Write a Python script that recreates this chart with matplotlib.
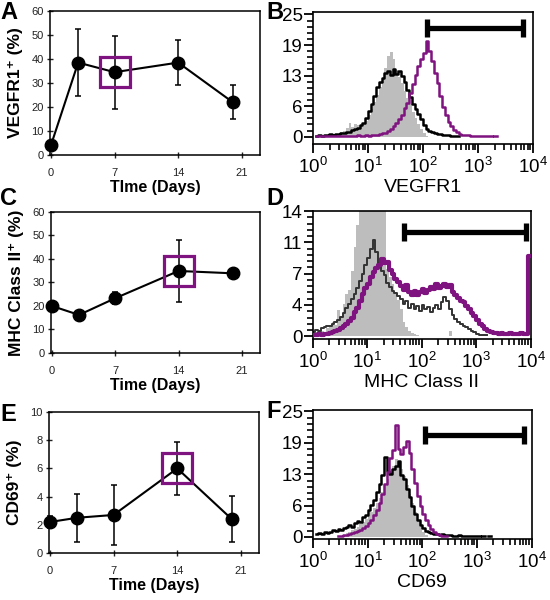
import matplotlib.pyplot as plt
import numpy as np
from matplotlib.ticker import FixedLocator, NullFormatter

plt.rcParams["font.family"] = ["Liberation Sans", "DejaVu Sans"]
plt.rcParams["mathtext.fontset"] = "custom"
plt.rcParams["mathtext.rm"] = "Liberation Sans"
plt.rcParams["mathtext.it"] = "Liberation Sans:italic"
plt.rcParams["mathtext.bf"] = "Liberation Sans:bold"

PURPLE = "#7f137f"
GREY = "#bdbdbd"

# ── Time courses: % positive cells ─────────────────────────────────────────
days = [0, 3, 7, 14, 20]
vegfr1_pct = [4.0, 38.5, 34.5, 38.5, 22.0]
vegfr1_err = [1.0, 13.8, 15.2, 9.3, 7.0]
mhc_pct = [20.0, 16.2, 23.3, 34.9, 33.9]
mhc_err = [1.0, 0.8, 2.6, 13.0, 1.6]
cd69_pct = [2.2, 2.5, 2.7, 6.0, 2.4]
cd69_err = [0.4, 1.7, 2.1, 1.9, 1.65]

# ── Flow histograms: counts per 0.05-decade bin, 10^0 .. 10^4 ──────────────
vegfr1_iso = [
    0, 0, 0, 0, 0, 0.1, 0.2, 0.3, 0.5, 0.6, 0.9, 1.2, 1.8, 2.8, 1.9, 2.6, 2.4, 2.2, 2.6, 3.2,
    4.4, 5.6, 7.0, 8.6, 10.2, 12.0, 14.0, 16.6, 17.3, 15.8, 13.6, 12.2, 11.0, 9.4, 8.0, 6.6, 5.0, 3.8, 2.6, 1.5,
    0.7, 0.2, 0, 0, 0, 0, 0, 0, 0, 0, 0, 0, 0, 0, 0, 0, 0, 0, 0, 0,
    0, 0, 0, 0, 0, 0, 0, 0, 0, 0, 0, 0, 0, 0, 0, 0, 0, 0, 0, 0,
]
vegfr1_ctrl = [
    0, 0.2, 0.3, 0.2, 0.4, 0.3, 0.5, 0.4, 0.6, 0.5, 0.7, 0.8, 1.0, 0.9, 1.4, 1.6, 1.8, 2.3, 2.7, 3.8,
    5.2, 6.6, 8.4, 10.1, 11.2, 12.0, 13.1, 13.5, 12.6, 13.8, 12.9, 13.4, 12.5, 11.2, 9.6, 8.1, 6.6, 5.6, 4.6, 3.6,
    2.4, 1.5, 1.1, 0.9, 0.8, 0.6, 0.5, 0.4, 0.3, 0.3, 0.2, 0.2, 0.1, 0, 0, 0, 0, 0, 0, 0,
    0, 0, 0, 0, 0, 0, 0, 0, 0, 0, 0, 0, 0, 0, 0, 0, 0, 0, 0, 0,
]
vegfr1_day7 = [
    0, 0.1, 0.1, 0.2, 0.1, 0.2, 0.1, 0.2, 0.2, 0.1, 0.2, 0.2, 0.1, 0.2, 0.2, 0.2, 0.3, 0.2, 0.2, 0.3,
    0.2, 0.3, 0.3, 0.4, 0.5, 0.7, 0.8, 1.2, 1.5, 2.2, 2.8, 3.6, 4.4, 5.9, 6.8, 8.9, 10.8, 12.6, 14.4, 15.9,
    17.2, 19.6, 17.5, 15.4, 13.0, 11.0, 8.4, 6.0, 4.5, 3.1, 2.2, 1.4, 0.9, 0.6, 0.4, 0.3, 0.3, 0.2, 0.2, 0.2,
    0.1, 0.2, 0.1, 0.1, 0.1, 0, 0.1, 0, 0, 0, 0, 0, 0, 0, 0, 0, 0, 0, 0, 0,
]
mhc_iso = [
    0.3, 0.5, 0.4, 0.6, 0.5, 0.9, 1.0, 1.6, 1.3, 2.9, 2.2, 3.6, 4.7, 5.2, 7.3, 10.0, 12.4, 14.5, 16.0, 16.5,
    17.0, 16.8, 16.2, 16.5, 15.8, 15.0, 14.6, 7.5, 6.6, 5.8, 5.0, 4.1, 3.0, 1.6, 1.0, 0.6, 0.4, 0.3, 0.1, 0,
    0, 0, 0, 0, 0, 0, 0, 0, 0, 0, 0.6, 0, 0, 0, 0, 0, 0, 0, 0, 0,
    0, 0, 0, 0, 0, 0, 0, 0, 0, 0, 0, 0, 0, 0, 0, 0, 0, 0, 0, 0,
]
mhc_ctrl = [
    0.5, 0.7, 0.6, 0.9, 1.0, 1.2, 1.1, 1.4, 1.6, 1.8, 2.2, 2.6, 3.2, 3.6, 4.2, 4.7, 5.4, 6.2, 7.0, 8.0,
    8.8, 9.8, 10.8, 9.4, 8.2, 7.3, 6.8, 6.0, 5.5, 5.1, 4.8, 4.5, 4.2, 3.6, 4.0, 3.2, 3.6, 3.0, 3.4, 2.8,
    3.5, 3.0, 3.3, 2.7, 3.2, 3.5, 3.0, 3.8, 4.4, 4.0, 3.0, 2.4, 1.9, 1.6, 1.4, 1.2, 1.0, 0.8, 0.6, 0.5,
    0.3, 0.2, 0.1, 0.1, 0, 0, 0, 0, 0, 0, 0, 0, 0, 0, 0, 0, 0, 0, 0, 0,
]
mhc_day14 = [
    0.2, 0.2, 0.3, 0.2, 0.3, 0.3, 0.4, 0.5, 0.6, 0.7, 0.9, 1.1, 1.4, 1.7, 2.1, 2.7, 3.2, 4.0, 4.7, 5.4,
    5.9, 6.6, 7.2, 7.6, 8.0, 8.6, 8.2, 8.3, 7.4, 7.0, 6.4, 6.1, 5.6, 5.2, 5.7, 5.0, 4.6, 5.1, 4.6, 4.9,
    5.3, 4.8, 5.2, 5.5, 5.3, 5.8, 5.4, 5.6, 5.9, 5.5, 5.7, 5.0, 4.6, 4.3, 4.0, 3.8, 3.4, 3.0, 2.6, 2.3,
    1.8, 1.4, 1.1, 0.8, 0.6, 0.5, 0.4, 0.4, 0.3, 0.4, 0.3, 0.3, 0.4, 0.3, 0.3, 0.3, 0.4, 0.3, 0.3, 9.0,
]
cd69_iso = [
    0, 0, 0, 0, 0, 0, 0, 0, 0, 0, 0.2, 0.4, 0.8, 1.0, 1.3, 1.6, 2.0, 2.5, 3.0, 3.6,
    4.2, 5.0, 5.8, 6.8, 7.8, 9.0, 10.2, 11.6, 13.0, 14.2, 15.6, 14.8, 13.6, 12.2, 10.4, 8.6, 6.8, 5.0, 3.4, 2.0,
    0.9, 0.3, 0, 0, 0, 0, 0, 0, 0, 0, 0, 0, 0, 0, 0, 0, 0, 0, 0, 0,
    0, 0, 0, 0, 0, 0, 0, 0, 0, 0, 0, 0, 0, 0, 0, 0, 0, 0, 0, 0,
]
cd69_ctrl = [
    0, 0.5, 0.8, 0.6, 0.9, 0.7, 1.0, 1.4, 1.2, 1.6, 1.3, 1.8, 2.0, 2.3, 2.0, 2.8, 3.2, 3.0, 3.9, 4.4,
    5.4, 6.3, 7.4, 8.9, 10.6, 12.4, 15.9, 13.2, 12.5, 13.6, 14.2, 15.2, 12.4, 11.5, 9.6, 7.9, 6.2, 4.6, 3.4, 2.4,
    1.8, 1.2, 1.0, 0.8, 0.6, 0.5, 0.4, 0.5, 0.3, 0.3, 0.4, 0.2, 0.2, 0.3, 0.1, 0.2, 0.1, 0.1, 0.1, 0.1,
    0.1, 0, 0.1, 0, 0.1, 0, 0, 0, 0, 0, 0, 0, 0, 0, 0, 0, 0, 0, 0, 0,
]
cd69_day14 = [
    0, 0, 0, 0, 0, 0, 0, 0, 0, 0.1, 0.2, 0.3, 0.4, 0.6, 0.7, 0.9, 1.2, 1.4, 1.8, 2.2,
    2.8, 3.4, 4.3, 5.4, 6.8, 8.5, 10.6, 13.0, 15.8, 17.4, 22.4, 17.5, 16.6, 18.0, 19.2, 16.8, 13.6, 10.8, 8.2, 6.2,
    4.6, 3.4, 2.4, 1.6, 1.0, 0.6, 0.4, 0.2, 0.1, 0, 0, 0, 0, 0, 0, 0, 0, 0, 0, 0,
    0, 0, 0, 0, 0, 0, 0, 0, 0, 0, 0, 0, 0, 0, 0, 0, 0, 0, 0, 0,
]

# positive gates (x start, x end, height)
vegfr1_gate = [120, 6700, 22.2]
mhc_gate = [48, 8300, 11.7]
cd69_gate = [112, 7300, 20.3]

hist_ymax = [25, 14, 25]
hist_yticklabels = [["0", "6", "13", "19", "25"], ["0", "4", "7", "11", "14"], ["0", "6", "13", "19", "25"]]

EDGES = 10 ** np.linspace(0, 4, 81)
MINOR_X = [m * 10 ** k for k in range(4) for m in range(2, 10)]


def time_panel(ax, y, err, hl, ymax, ystep, ylabel, xlabel):
    ax.errorbar(days, y, yerr=err, color="black", lw=1.5, elinewidth=1.1, capsize=2,
                capthick=1.1, marker="o", ms=9, zorder=3, clip_on=False)
    ax.plot(days[hl], y[hl], marker="s", ms=21, mfc="none", mec=PURPLE, mew=2.3, zorder=4)
    ax.set_xlim(-0.1, 23)
    ax.set_ylim(0, ymax)
    ax.set_xticks([0, 7, 14, 21])
    ax.set_yticks(np.arange(0, ymax + ystep / 2, ystep))
    ax.tick_params(direction="inout", length=5, width=1, labelsize=8, pad=7, colors="#222222")
    ax.tick_params(axis="y", pad=2)
    for s in ax.spines.values():
        s.set_linewidth(1.1)
    ax.set_ylabel(ylabel, fontsize=12.5, fontweight="bold")
    ax.yaxis.set_label_coords(-0.13, 0.5)
    ax.set_xlabel(xlabel, fontsize=11.5, fontweight="bold", labelpad=1)


def step_line(ax, vals, **kw):
    v = np.array(vals, dtype=float)
    v[v == 0] = np.nan
    ax.step(EDGES, np.append(v, v[-1]), where="post", **kw)


def hist_panel(ax, iso, ctrl, treated, gate, ymax, ylabels, xlabel, thick=False):
    ax.stairs(iso, EDGES, fill=True, color=GREY, lw=0, zorder=1)
    step_line(ax, ctrl, color="#333333" if thick else "black", lw=1.4 if thick else 1.8, zorder=2)
    step_line(ax, treated, color=PURPLE, lw=3.0 if thick else 1.8, zorder=3)
    ax.plot(gate[:2], [gate[2], gate[2]], color="black", lw=3.8, solid_capstyle="butt", zorder=4)
    ax.plot(gate[:2], [gate[2], gate[2]], ls="none", marker="|", ms=13, mew=3.8,
            color="black", zorder=4)
    ax.set_xscale("log")
    ax.set_xlim(1, 1e4)
    ax.set_ylim(-0.06 * ymax, ymax * 1.02)
    ax.xaxis.set_major_locator(FixedLocator([1, 10, 100, 1000, 10000]))
    ax.xaxis.set_minor_locator(FixedLocator(MINOR_X))
    ax.set_xticklabels([r"$10^0$", r"$10^1$", r"$10^2$", r"$10^3$", r"$10^4$"])
    ax.xaxis.set_minor_formatter(NullFormatter())
    ax.yaxis.set_major_locator(FixedLocator(np.linspace(0, ymax, 5)))
    ax.yaxis.set_minor_locator(FixedLocator(np.linspace(0, ymax, 21)))
    ax.set_yticklabels(ylabels)
    ax.yaxis.set_minor_formatter(NullFormatter())
    ax.tick_params(which="major", direction="out", length=6.5, width=1.3, color="black")
    ax.tick_params(which="minor", direction="out", length=4.5, width=1.2, color="black")
    ax.tick_params(axis="x", labelsize=13.5, pad=3)
    ax.tick_params(axis="y", labelsize=13.5, pad=1)
    for s in ax.spines.values():
        s.set_linewidth(1.2)
    ax.set_xlabel(xlabel, fontsize=14, labelpad=1)


fig = plt.figure(figsize=(5.5, 6), dpi=100)
axA = fig.add_axes([0.0909, 0.7417, 0.3818, 0.24])
axC = fig.add_axes([0.0927, 0.4117, 0.38, 0.235])
axE = fig.add_axes([0.0891, 0.0783, 0.382, 0.235])
axB = fig.add_axes([0.569, 0.76, 0.4, 0.22])
axD = fig.add_axes([0.5685, 0.435, 0.3964, 0.2133])
axF = fig.add_axes([0.569, 0.1017, 0.3976, 0.215])

time_panel(axA, vegfr1_pct, vegfr1_err, 2, 60, 10, "VEGFR1⁺ (%)", "TIme (Days)")
time_panel(axC, mhc_pct, mhc_err, 3, 60, 10, "MHC Class II⁺ (%)", "Time (Days)")
time_panel(axE, cd69_pct, cd69_err, 3, 10, 2, "CD69⁺ (%)", "Time (Days)")

hist_panel(axB, vegfr1_iso, vegfr1_ctrl, vegfr1_day7, vegfr1_gate, hist_ymax[0],
           hist_yticklabels[0], "VEGFR1")
hist_panel(axD, mhc_iso, mhc_ctrl, mhc_day14, mhc_gate, hist_ymax[1],
           hist_yticklabels[1], "MHC Class II", thick=True)
axD.set_ylim(-0.3, 14)
hist_panel(axF, cd69_iso, cd69_ctrl, cd69_day14, cd69_gate, hist_ymax[2],
           hist_yticklabels[2], "CD69")
axF.set_ylim(-0.4, 25.3)

for lbl, x, y in [("A", 0.0, 0.998), ("B", 0.485, 0.998), ("C", 0.0, 0.688),
                  ("D", 0.485, 0.688), ("E", 0.0, 0.328), ("F", 0.485, 0.333)]:
    fig.text(x, y, lbl, fontsize=17, fontweight="bold", va="top", ha="left")

fig.savefig("out.png", dpi=100)
